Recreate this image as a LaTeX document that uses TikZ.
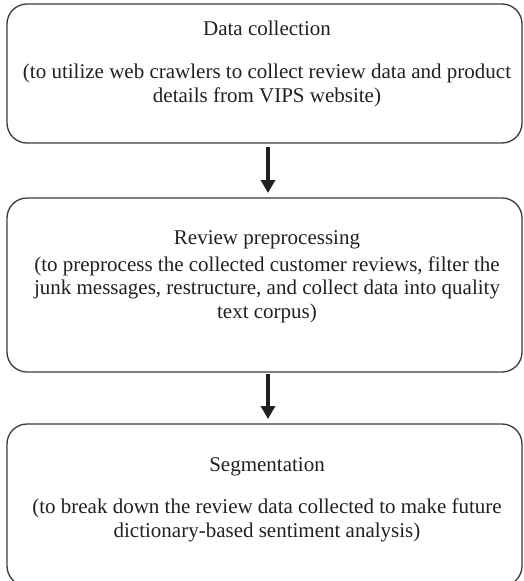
\documentclass[tikz,border=0pt]{standalone}
\usepackage{fontspec}
\setmainfont{Liberation Serif}
\usetikzlibrary{arrows.meta}
\definecolor{boxline}{HTML}{3A3A3A}
\definecolor{arrowink}{HTML}{231F20}
\definecolor{textink}{HTML}{231F20}
\begin{document}
\begin{tikzpicture}[x=1pt,y=-1pt,
  stagebox/.style={draw=boxline, line width=1.3pt, rounded corners=20pt,
    inner sep=0pt, outer sep=0pt, minimum width=515pt},
  title/.style={anchor=base, inner sep=0pt, text=textink,
    font=\fontsize{21}{23.5}\selectfont},
  detail/.style={anchor=base, inner sep=0pt, align=center, text=textink,
    font=\fontsize{21}{23.5}\selectfont},
  flow/.style={draw=arrowink, line width=4.5pt,
    -{Triangle[width=14pt,length=13pt]}}]
\useasboundingbox (0,0) rectangle (523,581);

% three stage boxes
\node[stagebox, minimum height=139pt] (collect) at (264.5,73.5) {};
\node[stagebox, minimum height=174pt] (prep) at (264.5,285) {};
\node[stagebox, minimum height=162pt] (seg) at (264.5,505) {};

% stage texts (detail nodes are anchored at the baseline of their last line)
\node[title] (collectT) at (267,35) {Data collection};
\node[detail] (collectD) at (267,102) {(to utilize web crawlers to collect review data and product\\details from VIPS website)};

\node[title] (prepT) at (267,244) {Review preprocessing};
\node[detail] (prepD) at (267,318) {(to preprocess the collected customer reviews, filter the\\junk messages, restructure, and collect data into quality\\text corpus)};

\node[title] (segT) at (267,471) {Segmentation};
\node[detail] (segD) at (267,537) {(to break down the review data collected to make future\\dictionary-based sentiment analysis)};

% flow arrows
\draw[flow, shorten <=4pt, shorten >=5pt]
  ([xshift=3.5pt]collect.south) -- ([xshift=3.5pt]prep.north);
\draw[flow, shorten <=2pt, shorten >=5pt]
  ([xshift=3.5pt]prep.south) -- ([xshift=3.5pt]seg.north);
\end{tikzpicture}
\end{document}
